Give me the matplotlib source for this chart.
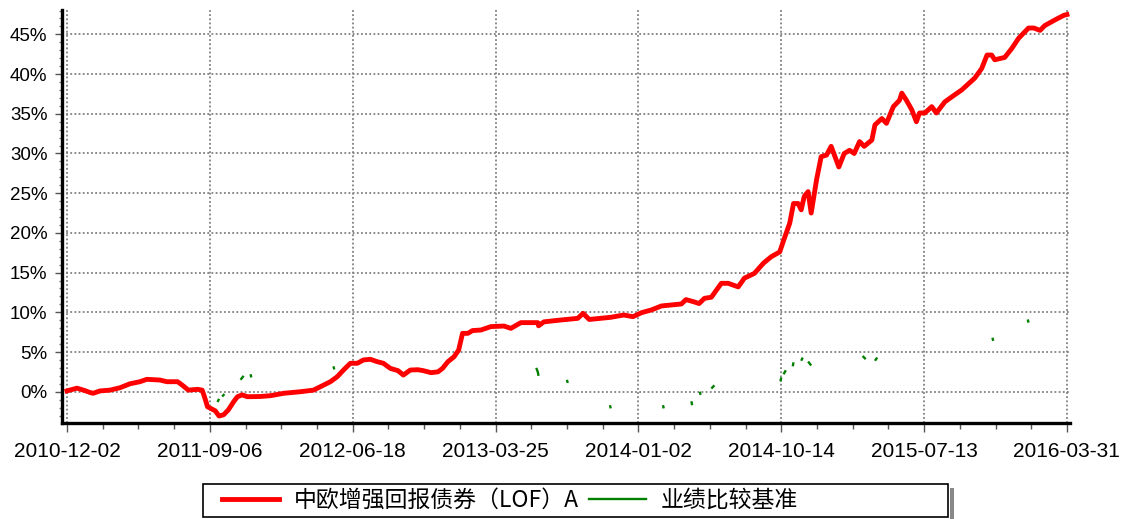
import numpy as np
import matplotlib
matplotlib.use("Agg")
import matplotlib.pyplot as plt
from matplotlib.ticker import MultipleLocator, FixedLocator, FuncFormatter
from matplotlib.patches import Rectangle
from matplotlib.lines import Line2D

plt.rcParams['font.family'] = ['Liberation Sans', 'Noto Sans CJK SC', 'DejaVu Sans']

# ---------------- data ----------------
# trading-day index (0 = 2010-12-02) and cumulative return (%)
fund_days = [0, 13, 23, 30, 34, 43, 56, 69, 82, 95, 104, 121, 130, 144, 151, 158, 170, 176,
             179, 183, 187, 193, 198, 204, 210, 217, 222, 228, 235, 252, 265, 282, 304, 321,
             330, 343, 352, 360, 369, 378, 386, 395, 404, 412, 421, 431, 438, 447, 457, 464,
             474, 483, 489, 496, 504, 510, 515, 522, 528, 539, 552, 569, 578, 591, 613, 614,
             621, 643, 665, 672, 680, 708, 725, 737, 748, 761, 774, 800, 806, 817, 823, 830,
             839, 852, 861, 874, 882, 895, 907, 917, 928, 934, 941, 946, 952, 956, 960, 965,
             969, 976, 982, 989, 995, 1005, 1012, 1019, 1025, 1032, 1038, 1048, 1052, 1061,
             1067, 1076, 1084, 1087, 1093, 1100, 1106, 1110, 1117, 1126, 1132, 1143, 1156,
             1165, 1174, 1182, 1191, 1198, 1204, 1208, 1221, 1230, 1239, 1252, 1259, 1267,
             1273, 1286, 1298, 1302]
fund_vals = [0.1, 0.45, 0.15, -0.1, -0.2, 0.1, 0.2, 0.5, 1.0, 1.26, 1.56, 1.47, 1.26, 1.26, 0.76,
             0.2, 0.3, 0.2, -0.63, -1.9, -2.1, -2.4, -3.06, -2.9, -2.3, -1.26, -0.63, -0.4, -0.63,
             -0.6, -0.5, -0.2, 0.0, 0.2, 0.63, 1.26, 1.9, 2.73, 3.58, 3.58, 4.0, 4.08, 3.78, 3.58,
             2.94, 2.65, 2.1, 2.73, 2.77, 2.65, 2.4, 2.5, 2.94, 3.78, 4.4, 5.25, 7.35, 7.35, 7.7,
             7.77, 8.2, 8.27, 7.98, 8.7, 8.7, 8.3, 8.8, 9.03, 9.24, 9.87, 9.1, 9.37, 9.66, 9.45,
             9.95, 10.3, 10.8, 11.05, 11.6, 11.3, 11.1, 11.76, 11.9, 13.65, 13.65, 13.2, 14.3,
             14.9, 16.2, 17.0, 17.6, 19.3, 21.2, 23.7, 23.7, 22.9, 24.6, 25.2, 22.5, 26.7, 29.6,
             29.8, 30.9, 28.3, 30.0, 30.4, 30.0, 31.5, 30.9, 31.7, 33.6, 34.4, 33.8, 35.9, 36.7,
             37.6, 36.7, 35.5, 34.0, 35.1, 35.1, 35.9, 35.1, 36.5, 37.4, 38.0, 38.8, 39.5, 40.7,
             42.4, 42.4, 41.8, 42.1, 43.2, 44.5, 45.8, 45.8, 45.5, 46.1, 46.8, 47.4, 47.5]

# benchmark: only short visible fragments (NaN = gap)
nan = np.nan
bench_days = [178, 179, nan, 196, 198, nan, 202, 205, nan, 226, 230, nan, 239, 240, nan,
              347, 348, nan, 611, 613, 614, nan, 651, 652, nan, 707, 708, nan, 776, 777, nan,
              813, 814, nan, 824, 825, nan, 839, 843, nan, 929, 930, nan, 933, 936, nan,
              945, 946, nan, 956, 958, nan, 965, 969, nan, 1036, 1040, nan, 1052, 1055, nan,
              1205, 1206, nan, 1251, 1252]
bench_vals = [-0.5, -1.0, nan, -1.3, -0.9, nan, -0.6, -0.3, nan, 1.5, 2.0, nan, 2.2, 1.8, nan,
              3.2, 2.8, nan, 3.0, 2.5, 2.0, nan, 1.5, 1.1, nan, -1.7, -2.1, nan, -1.7, -2.1, nan,
              -1.2, -1.7, nan, 0.0, -0.4, nan, 0.4, 0.8, nan, 1.3, 1.8, nan, 2.2, 2.7, nan,
              3.2, 3.7, nan, 3.9, 4.3, nan, 3.8, 3.3, nan, 4.5, 4.1, nan, 3.9, 4.3, nan,
              6.8, 6.4, nan, 9.1, 8.7]

tick_days = [0, 186, 372, 558, 744, 930, 1116, 1302]
tick_labels = ['2010-12-02', '2011-09-06', '2012-06-18', '2013-03-25',
               '2014-01-02', '2014-10-14', '2015-07-13', '2016-03-31']
y_ticks = [0, 5, 10, 15, 20, 25, 30, 35, 40, 45]

series_names = ['中欧增强回报债券（LOF）A', '业绩比较基准']

# ---------------- figure ----------------
W, H = 1122, 519
fig = plt.figure(figsize=(W / 100, H / 100), dpi=100)
ax = fig.add_axes([62 / W, (H - 423) / H, 1008 / W, 413 / H])

ax.plot(bench_days, bench_vals, color='#008000', lw=1.7, solid_capstyle='butt', zorder=3)
ax.plot(fund_days, fund_vals, color='#ff0000', lw=3.5, solid_joinstyle='round', zorder=4)

ax.set_xlim(-6.5, 1306)
ax.set_ylim(-3.94, 48.07)

ax.xaxis.set_major_locator(FixedLocator(tick_days))
ax.set_xticklabels(tick_labels)
ax.xaxis.set_minor_locator(MultipleLocator(46.5))
ax.yaxis.set_major_locator(FixedLocator(y_ticks))
ax.yaxis.set_major_formatter(FuncFormatter(lambda v, p: f'{v:.0f}%'))
ax.yaxis.set_minor_locator(MultipleLocator(1))

for s in ['top', 'right']:
    ax.spines[s].set_visible(False)
for s in ['left', 'bottom']:
    ax.spines[s].set_linewidth(2.4)
    ax.spines[s].set_color('black')

ax.tick_params(axis='x', which='major', direction='out', length=6.5, width=1.0,
               color='#555555', pad=7, labelsize=15)
ax.tick_params(axis='x', which='minor', direction='out', length=4, width=1.0, color='#555555')
ax.tick_params(axis='y', which='major', direction='out', length=5, width=1.0,
               color='#555555', pad=5.5, labelsize=13.5)
ax.tick_params(axis='y', which='minor', direction='out', length=2.5, width=1.0, color='#777777')

ax.grid(True, which='major', axis='both', color='#808080', linestyle=(0, (1, 1.3)), lw=1.3)
ax.set_axisbelow(True)

# ---------------- legend ----------------
lx0, ly0, lx1, ly1 = 203, 484, 948, 517
fig.patches.append(Rectangle((lx0 / W, (H - ly1) / H), (lx1 - lx0) / W, (ly1 - ly0) / H,
                             transform=fig.transFigure, fill=False, edgecolor='black', lw=1.2))
fig.patches.append(Rectangle(((lx1 + 2) / W, (H - ly1 - 2) / H), 4 / W, (ly1 - ly0 - 2) / H,
                             transform=fig.transFigure, facecolor='#888888', edgecolor='none'))
handles = [Line2D([], [], color='#ff0000', lw=3.5), Line2D([], [], color='#008000', lw=1.7)]
fig.legend(handles, series_names, loc='center left',
           bbox_to_anchor=(206 / W, (H - 500.5) / H), ncol=2, frameon=False,
           prop={'family': ['Noto Sans CJK SC', 'Liberation Sans'], 'size': 16.5},
           handlelength=2.5, handletextpad=0.62, columnspacing=0.45, borderpad=0.2)

fig.savefig('out.png', dpi=100)
